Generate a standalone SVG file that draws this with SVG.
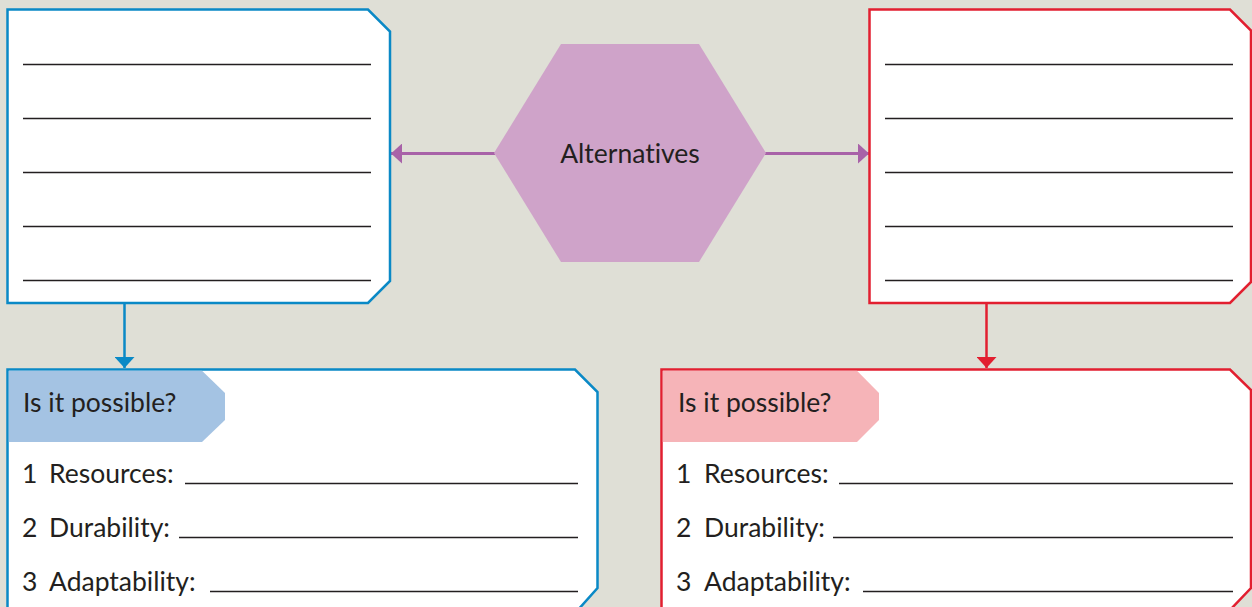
<svg xmlns="http://www.w3.org/2000/svg" width="1252" height="607" viewBox="0 0 1252 607">
<style>
.bg{fill:#dfdfd6}
.blue{fill:#fff;stroke:#0a89c6;stroke-width:2.5}
.red{fill:#fff;stroke:#e21f30;stroke-width:2.5}
.rule{stroke:#231f20;stroke-width:1.4}
.t{font-family:Lato,"Open Sans","Liberation Sans",sans-serif;fill:#231f20;font-size:26.5px;font-variant-ligatures:none}
.hex{fill:#cfa3c9}
.cp{stroke:#a862a8;stroke-width:3;fill:none}
.cb{stroke:#0a89c6;stroke-width:2.5;fill:none}
.cr{stroke:#e21f30;stroke-width:2.5;fill:none}
</style>
<defs>
<marker id="ap" viewBox="0 0 11 20" refX="11" refY="10" markerWidth="11" markerHeight="20" markerUnits="userSpaceOnUse" orient="auto"><path d="M0,0 L11,10 L0,20 Z" fill="#a862a8"/></marker>
<marker id="ab" viewBox="0 0 11 20" refX="11" refY="10" markerWidth="11" markerHeight="20" markerUnits="userSpaceOnUse" orient="auto"><path d="M0,0 L11,10 L0,20 Z" fill="#0a89c6"/></marker>
<marker id="ar" viewBox="0 0 11 20" refX="11" refY="10" markerWidth="11" markerHeight="20" markerUnits="userSpaceOnUse" orient="auto"><path d="M0,0 L11,10 L0,20 Z" fill="#e21f30"/></marker>
</defs>
<rect class="bg" x="0" y="0" width="1252" height="607"/>
<g id="connectors">
<path class="cp" d="M495,153.5 L391,153.5" marker-end="url(#ap)"/>
<path class="cp" d="M765,153.5 L869,153.5" marker-end="url(#ap)"/>
<path class="cb" d="M124.5,304 L124.5,368" marker-end="url(#ab)"/>
<path class="cr" d="M986.5,304 L986.5,368" marker-end="url(#ar)"/>
</g>
<g id="box-top-left">
<path class="blue" d="M7.5,9.5 H368 L390,31.5 V281 L368,303 H7.5 Z"/>
<g class="rule"><path d="M23,64.5 H371 M23,118.5 H371 M23,172.5 H371 M23,226.5 H371 M23,280.5 H371"/></g>
</g>
<g id="alternatives">
<polygon class="hex" points="561,44 699,44 766,153 699,262 561,262 494,153"/>
<text class="t" x="630" y="163" text-anchor="middle">Alternatives</text>
</g>
<g id="box-top-right">
<path class="red" d="M869.5,9.5 H1230 L1251,30.5 V282 L1230,303 H869.5 Z"/>
<g class="rule"><path d="M885,64.5 H1233 M885,118.5 H1233 M885,172.5 H1233 M885,226.5 H1233 M885,280.5 H1233"/></g>
</g>
<g id="box-bottom-left">
<path class="blue" d="M7.5,369.5 H575 L597.5,392 V588 L577,611 H7.5 Z"/>
<path d="M8.8,370.8 H202 L225,393 V420 L202,442 H8.8 Z" fill="#a4c3e3"/>
<text class="t" x="23" y="412">Is it possible?</text>
<text class="t" x="22" y="483">1</text><text class="t" x="49" y="483">Resources:</text>
<text class="t" x="22" y="537">2</text><text class="t" x="49" y="537">Durability:</text>
<text class="t" x="22" y="591">3</text><text class="t" x="49" y="591">Adaptability:</text>
<g class="rule"><path d="M185,483.5 H578 M179,537.5 H578 M210,591.5 H578"/></g>
</g>
<g id="box-bottom-right">
<path class="red" d="M661.5,369.5 H1230 L1251,390 V588 L1230,610 H661.5 Z"/>
<path d="M662.8,370.8 H857 L879,393 V420 L857,442 H662.8 Z" fill="#f6b4b8"/>
<text class="t" x="678" y="412">Is it possible?</text>
<text class="t" x="676" y="483">1</text><text class="t" x="704" y="483">Resources:</text>
<text class="t" x="676" y="537">2</text><text class="t" x="704" y="537">Durability:</text>
<text class="t" x="676" y="591">3</text><text class="t" x="704" y="591">Adaptability:</text>
<g class="rule"><path d="M839,483.5 H1233 M833,537.5 H1233 M863,591.5 H1233"/></g>
</g>
</svg>
